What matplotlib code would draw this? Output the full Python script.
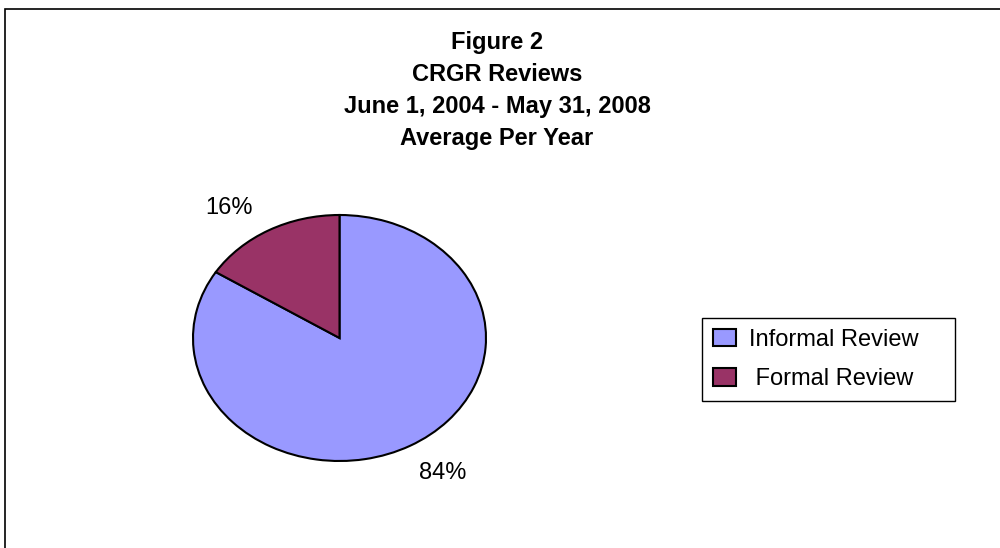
import matplotlib.pyplot as plt
from matplotlib.patches import Rectangle

# data
categories = ['Informal Review', 'Formal Review']
legend_labels = ['Informal Review', ' Formal Review']
shares = [84, 16]
colors = ['#9999FF', '#993366']
title_lines = ['Figure 2', 'CRGR Reviews', 'June 1, 2004 - May 31, 2008', 'Average Per Year']

plt.rcParams['font.family'] = ['Liberation Sans', 'DejaVu Sans']

W, H = 1000, 548
fig = plt.figure(figsize=(10, 5.48), dpi=100)

# outer frame (cut off on the right and bottom like the original)
fig.patches.append(Rectangle((4.5 / W, 1 - 560 / H), (1010 - 4.5) / W, (560 - 9.3) / H,
                             transform=fig.transFigure, fill=False, ec='black', lw=1.2))

# title, one line at a time
baselines = [49, 81, 113, 145]
for line, b in zip(title_lines, baselines):
    fig.text(497 / W, 1 - b / H, line, ha='center', va='baseline',
             fontsize=17, fontweight='bold')

# pie, stretched into an ellipse
ax = fig.add_axes([119.75 / W, 25.5 / H, 439.5 / W, 369 / H])
total = sum(shares)
pct_labels = [f'{v / total * 100:.0f}%' for v in shares]
wedges, texts = ax.pie(shares, labels=pct_labels, colors=colors, startangle=90,
                       counterclock=False,
                       wedgeprops=dict(edgecolor='black', linewidth=1.5),
                       textprops=dict(fontsize=17))
ax.set_aspect('auto')
ax.set_xlim(-1.5, 1.5)
ax.set_ylim(-1.5, 1.5)
ax.axis('off')

label_pos = [(0.703, -1.146), (-0.751, 1.008)]
for t, (x, y) in zip(texts, label_pos):
    t.set_position((x, y))
    t.set_ha('center')
    t.set_va('baseline')

leg = fig.legend(wedges, legend_labels, loc='lower left',
                 bbox_to_anchor=(702 / W, 1 - 401 / H, 253 / W, 92 / H),
                 mode='expand', borderaxespad=0, fontsize=17,
                 frameon=True, fancybox=False, edgecolor='black', framealpha=1,
                 handlelength=1.0, handleheight=0.75, handletextpad=0.55,
                 borderpad=0.45, labelspacing=0.75)
leg.get_frame().set_linewidth(1.0)

fig.savefig('out.png', dpi=100)
